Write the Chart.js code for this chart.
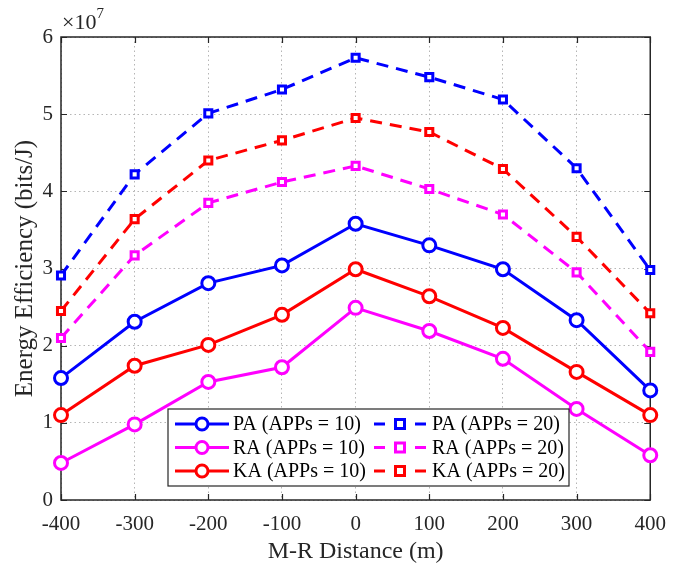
<!DOCTYPE html>
<html>
<head>
<meta charset="utf-8">
<script src="https://cdn.jsdelivr.net/npm/chart.js@4.4.1/dist/chart.umd.min.js"></script>
<style>
  html, body { margin: 0; padding: 0; background: #fff; }
  #wrap { width: 678px; height: 566px; position: relative; }
</style>
</head>
<body>
<div id="wrap"><canvas id="chart_energyEfficiency"></canvas></div>
<script>
// M-R distance (m)
var distances = [-400, -300, -200, -100, 0, 100, 200, 300, 400];

// energy efficiency, in units of 1e7 bits/J
var paApps10 = [1.58, 2.31, 2.81, 3.04, 3.58, 3.30, 2.99, 2.33, 1.42];
var raApps10 = [0.48, 0.98, 1.53, 1.72, 2.49, 2.19, 1.83, 1.18, 0.58];
var kaApps10 = [1.10, 1.74, 2.01, 2.40, 2.99, 2.64, 2.23, 1.66, 1.10];
var paApps20 = [2.91, 4.22, 5.01, 5.32, 5.73, 5.48, 5.19, 4.30, 2.98];
var raApps20 = [2.10, 3.17, 3.85, 4.12, 4.33, 4.03, 3.70, 2.95, 1.92];
var kaApps20 = [2.45, 3.64, 4.40, 4.66, 4.95, 4.77, 4.29, 3.41, 2.42];

var seriesLabels = ['PA (APPs = 10)', 'RA (APPs = 10)', 'KA (APPs = 10)',
                    'PA (APPs = 20)', 'RA (APPs = 20)', 'KA (APPs = 20)'];

var BLUE = '#0000ff', MAGENTA = '#ff00ff', RED = '#ff0000';
var SERIF = '"Liberation Serif", "DejaVu Serif", serif';

function toPoints(values) {
    return values.map(function(v, i) { return {x: distances[i], y: v}; });
}

function makeDataset(label, values, color, dashed) {
    return {
        label: label,
        data: toPoints(values),
        borderColor: color,
        backgroundColor: '#ffffff',
        borderWidth: 3,
        borderDash: dashed ? [12, 8] : [],
        pointStyle: dashed ? 'rect' : 'circle',
        pointRadius: dashed ? 5 : 6.5,
        pointBorderWidth: 3,
        pointBorderColor: color,
        pointBackgroundColor: '#ffffff',
        clip: false,
        tension: 0
    };
}

var datasets = [
    makeDataset(seriesLabels[0], paApps10, BLUE, false),
    makeDataset(seriesLabels[1], raApps10, MAGENTA, false),
    makeDataset(seriesLabels[2], kaApps10, RED, false),
    makeDataset(seriesLabels[3], paApps20, BLUE, true),
    makeDataset(seriesLabels[4], raApps20, MAGENTA, true),
    makeDataset(seriesLabels[5], kaApps20, RED, true)
];

// box, inward ticks, exponent label and legend, matlab style
var matlabStylePlugin = {
    id: 'matlabStyle',
    beforeDraw: function(chart) {
        var ctx = chart.ctx;
        ctx.save();
        ctx.fillStyle = 'white';
        ctx.fillRect(0, 0, chart.width, chart.height);
        ctx.restore();
    },
    beforeDatasetsDraw: function(chart) {
        var ctx = chart.ctx;
        var a = chart.chartArea;
        var xs = chart.scales.x, ys = chart.scales.y;
        ctx.save();
        ctx.strokeStyle = '#262626';
        ctx.lineWidth = 1.2;
        ctx.beginPath();
        xs.ticks.forEach(function(t) {
            var px = Math.round(xs.getPixelForValue(t.value)) + 0.5;
            ctx.moveTo(px, a.bottom); ctx.lineTo(px, a.bottom - 6);
            ctx.moveTo(px, a.top); ctx.lineTo(px, a.top + 6);
        });
        ys.ticks.forEach(function(t) {
            var py = Math.round(ys.getPixelForValue(t.value)) + 0.5;
            ctx.moveTo(a.left, py); ctx.lineTo(a.left + 6, py);
            ctx.moveTo(a.right, py); ctx.lineTo(a.right - 6, py);
        });
        ctx.stroke();
        ctx.lineWidth = 1.5;
        ctx.strokeRect(a.left, a.top, a.right - a.left, a.bottom - a.top);

        // exponent label
        ctx.fillStyle = '#262626';
        ctx.textBaseline = 'alphabetic';
        ctx.font = '22px ' + SERIF;
        ctx.fillText('\u00d710', a.left + 1, a.top - 8);
        var w = ctx.measureText('\u00d710').width;
        ctx.font = '15px ' + SERIF;
        ctx.fillText('7', a.left + 1 + w, a.top - 19);
        ctx.restore();
    },
    afterDraw: function(chart) {
        var ctx = chart.ctx;
        ctx.save();
        // legend
        var bx = 168, by = 409, bw = 401, bh = 77;
        ctx.fillStyle = '#ffffff';
        ctx.fillRect(bx, by, bw, bh);
        ctx.strokeStyle = '#262626';
        ctx.lineWidth = 1.2;
        ctx.strokeRect(bx, by, bw, bh);
        ctx.font = '20px ' + SERIF;
        ctx.textBaseline = 'middle';
        chart.data.datasets.forEach(function(ds, i) {
            var col = i < 3 ? 0 : 1;
            var row = i % 3;
            var cy = by + 15 + row * 23.5;
            var x0 = col === 0 ? 175 : 374;
            ctx.strokeStyle = ds.borderColor;
            ctx.lineWidth = 3;
            ctx.setLineDash([]);
            ctx.beginPath();
            if (col === 0) {
                ctx.moveTo(x0, cy); ctx.lineTo(x0 + 54, cy);
            } else {
                ctx.moveTo(x0, cy); ctx.lineTo(x0 + 11, cy);
                ctx.moveTo(x0 + 41, cy); ctx.lineTo(x0 + 52, cy);
            }
            ctx.stroke();
            ctx.fillStyle = '#ffffff';
            ctx.beginPath();
            if (col === 0) {
                ctx.arc(x0 + 27, cy, 6, 0, Math.PI * 2);
            } else {
                ctx.rect(x0 + 21.5, cy - 4.5, 9, 9);
            }
            ctx.fill();
            ctx.stroke();
            ctx.fillStyle = '#000000';
            ctx.fillText(ds.label, x0 + 58, cy + 1);
        });
        ctx.restore();
    }
};

var chart_energyEfficiency = new Chart(document.getElementById('chart_energyEfficiency'), {
    type: 'line',
    data: { datasets: datasets },
    options: {
        animation: false,
        responsive: true,
        maintainAspectRatio: false,
        layout: { padding: { left: 0, right: 27, top: 37, bottom: 0 } },
        plugins: {
            legend: { display: false },
            tooltip: { enabled: false }
        },
        scales: {
            x: {
                type: 'linear',
                min: -400,
                max: 400,
                afterFit: function(scale) { scale.height = 66; },
                ticks: {
                    stepSize: 100,
                    color: '#262626',
                    font: { family: SERIF, size: 21 },
                    padding: 12
                },
                grid: { color: '#b5b5b5', lineWidth: 1, drawTicks: false },
                border: { display: false, dash: [1.5, 3] },
                title: {
                    display: true,
                    text: 'M-R Distance (m)',
                    color: '#262626',
                    font: { family: SERIF, size: 24 },
                    padding: { top: 0, bottom: 0 }
                }
            },
            y: {
                type: 'linear',
                min: 0,
                max: 6,
                afterFit: function(scale) { scale.width = 61; },
                ticks: {
                    stepSize: 1,
                    color: '#262626',
                    font: { family: SERIF, size: 21 },
                    padding: 8
                },
                grid: { color: '#b5b5b5', lineWidth: 1, drawTicks: false },
                border: { display: false, dash: [1.5, 3] },
                title: {
                    display: true,
                    text: 'Energy Efficiency (bits/J)',
                    color: '#262626',
                    font: { family: SERIF, size: 25 },
                    padding: { top: 10, bottom: 0 }
                }
            }
        }
    },
    plugins: [matlabStylePlugin]
});
</script>
</body>
</html>
